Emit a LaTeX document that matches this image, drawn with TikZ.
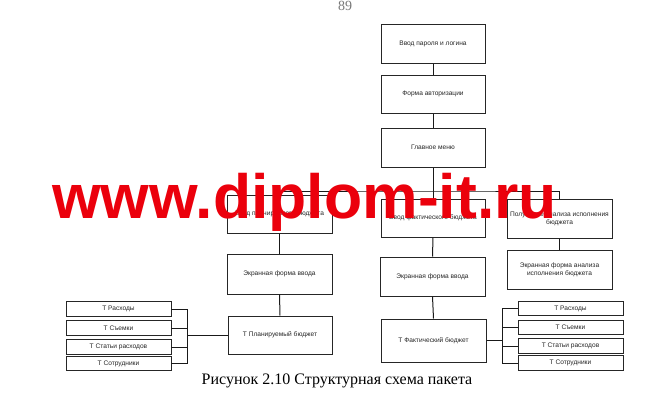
\documentclass[tikz,border=0pt]{standalone}
\usepackage{fontspec}
\setmainfont{Liberation Serif}
\newfontfamily\boxfont{Liberation Sans}
\newfontfamily\wmfont{Liberation Sans}
\definecolor{wmred}{RGB}{235,0,12}
\definecolor{pagegray}{RGB}{120,120,120}
\begin{document}
\begin{tikzpicture}[x=1pt,y=-1pt,
  blk/.style={draw=black!85,line width=1pt,minimum width=104pt,minimum height=39pt,
    inner sep=1pt,align=center,font=\boxfont\fontsize{6.6}{8}\selectfont,text=black!85},
  tbl/.style={draw=black!85,line width=0.9pt,minimum width=105pt,minimum height=14.5pt,
    inner sep=0.5pt,align=center,font=\boxfont\fontsize{6.6}{8}\selectfont,text=black!85},
  ln/.style={draw=black!90,line width=1pt}]
\useasboundingbox (0,0) rectangle (648,415);
\fill[white] (0,0) rectangle (648,415);

\node[font=\fontsize{14}{16}\selectfont,text=pagegray,anchor=base] (pg) at (345,10) {89};

\node[blk] (b1) at (433,43.5) {Ввод пароля и логина};
\node[blk,minimum height=38pt] (b2) at (433,94) {Форма авторизации};
\node[blk] (b3) at (433,147.5) {Главное меню};

\node[blk,minimum width=105pt,minimum height=38pt] (L1) at (279.5,214) {Ввод планируемого бюджета};
\node[blk,minimum height=38pt] (M1) at (433,218) {Ввод фактического бюджета};
\node[blk,minimum width=105pt] (R1) at (559.5,218.5) {Получение анализа исполнения\\бюджета};

\node[blk,minimum width=105pt,minimum height=40pt] (L2) at (279.5,274) {Экранная форма ввода};
\node[blk,minimum width=105pt] (M2) at (432.5,276.5) {Экранная форма ввода};
\node[blk,minimum width=105pt] (R2) at (559.5,269.5) {Экранная форма анализа\\исполнения бюджета};

\node[blk,minimum height=38pt] (L3) at (280,335) {Т Планируемый бюджет};
\node[blk,minimum width=105pt,minimum height=43pt] (M3) at (433.5,340.5) {Т Фактический бюджет};

\node[tbl] (ls1) at (118.5,309) {Т Расходы};
\node[tbl] (ls2) at (118.5,328) {Т Съемки};
\node[tbl] (ls3) at (118.5,347) {Т Статьи расходов};
\node[tbl] (ls4) at (118.5,363.5) {Т Сотрудники};

\node[tbl] (rs1) at (570.5,308.5) {Т Расходы};
\node[tbl] (rs2) at (570.5,327.5) {Т Съемки};
\node[tbl] (rs3) at (570.5,346) {Т Статьи расходов};
\node[tbl] (rs4) at (570.5,363) {Т Сотрудники};

\coordinate (bus) at (433,191);
\coordinate (lbx) at (187,0);
\coordinate (rbx) at (502,0);

\draw[ln] (b1.south) -- (b2.north);
\draw[ln] (b2.south) -- (b3.north);
\draw[ln] (b3.south) -- (bus);
\draw[ln] (L1.north) |- (bus) -| (R1.north);
\draw[ln] (bus) -- (M1.north);
\draw[ln] (L1.south) -- (L2.north);
\draw[ln] (L2.south) -- (L3.north);
\draw[ln] (M1.south) -- (M2.north);
\draw[ln] (M2.south) -- (M3.north);
\draw[ln] (R1.south) -- (R2.north);

\foreach \n in {ls1,ls2,ls3,ls4} {\draw[ln] (\n.east) -- (\n.east -| lbx);}
\draw[ln] (ls1.east -| lbx) -- (ls4.east -| lbx);
\draw[ln] (L3.west) -- (L3.west -| lbx);

\foreach \n in {rs1,rs2,rs3,rs4} {\draw[ln] (\n.west) -- (\n.west -| rbx);}
\draw[ln] (rs1.west -| rbx) -- (rs4.west -| rbx);
\draw[ln] (M3.east) -- (M3.east -| rbx);

\node[font=\fontsize{16}{18}\selectfont,anchor=base] (cap) at (337,384) {Рисунок 2.10 Структурная схема пакета};

\node[font=\wmfont\bfseries\fontsize{62.5}{70}\selectfont,text=wmred,anchor=base west,inner sep=0pt] (wm) at (52,218) {www.diplom-it.ru};
\end{tikzpicture}
\end{document}
